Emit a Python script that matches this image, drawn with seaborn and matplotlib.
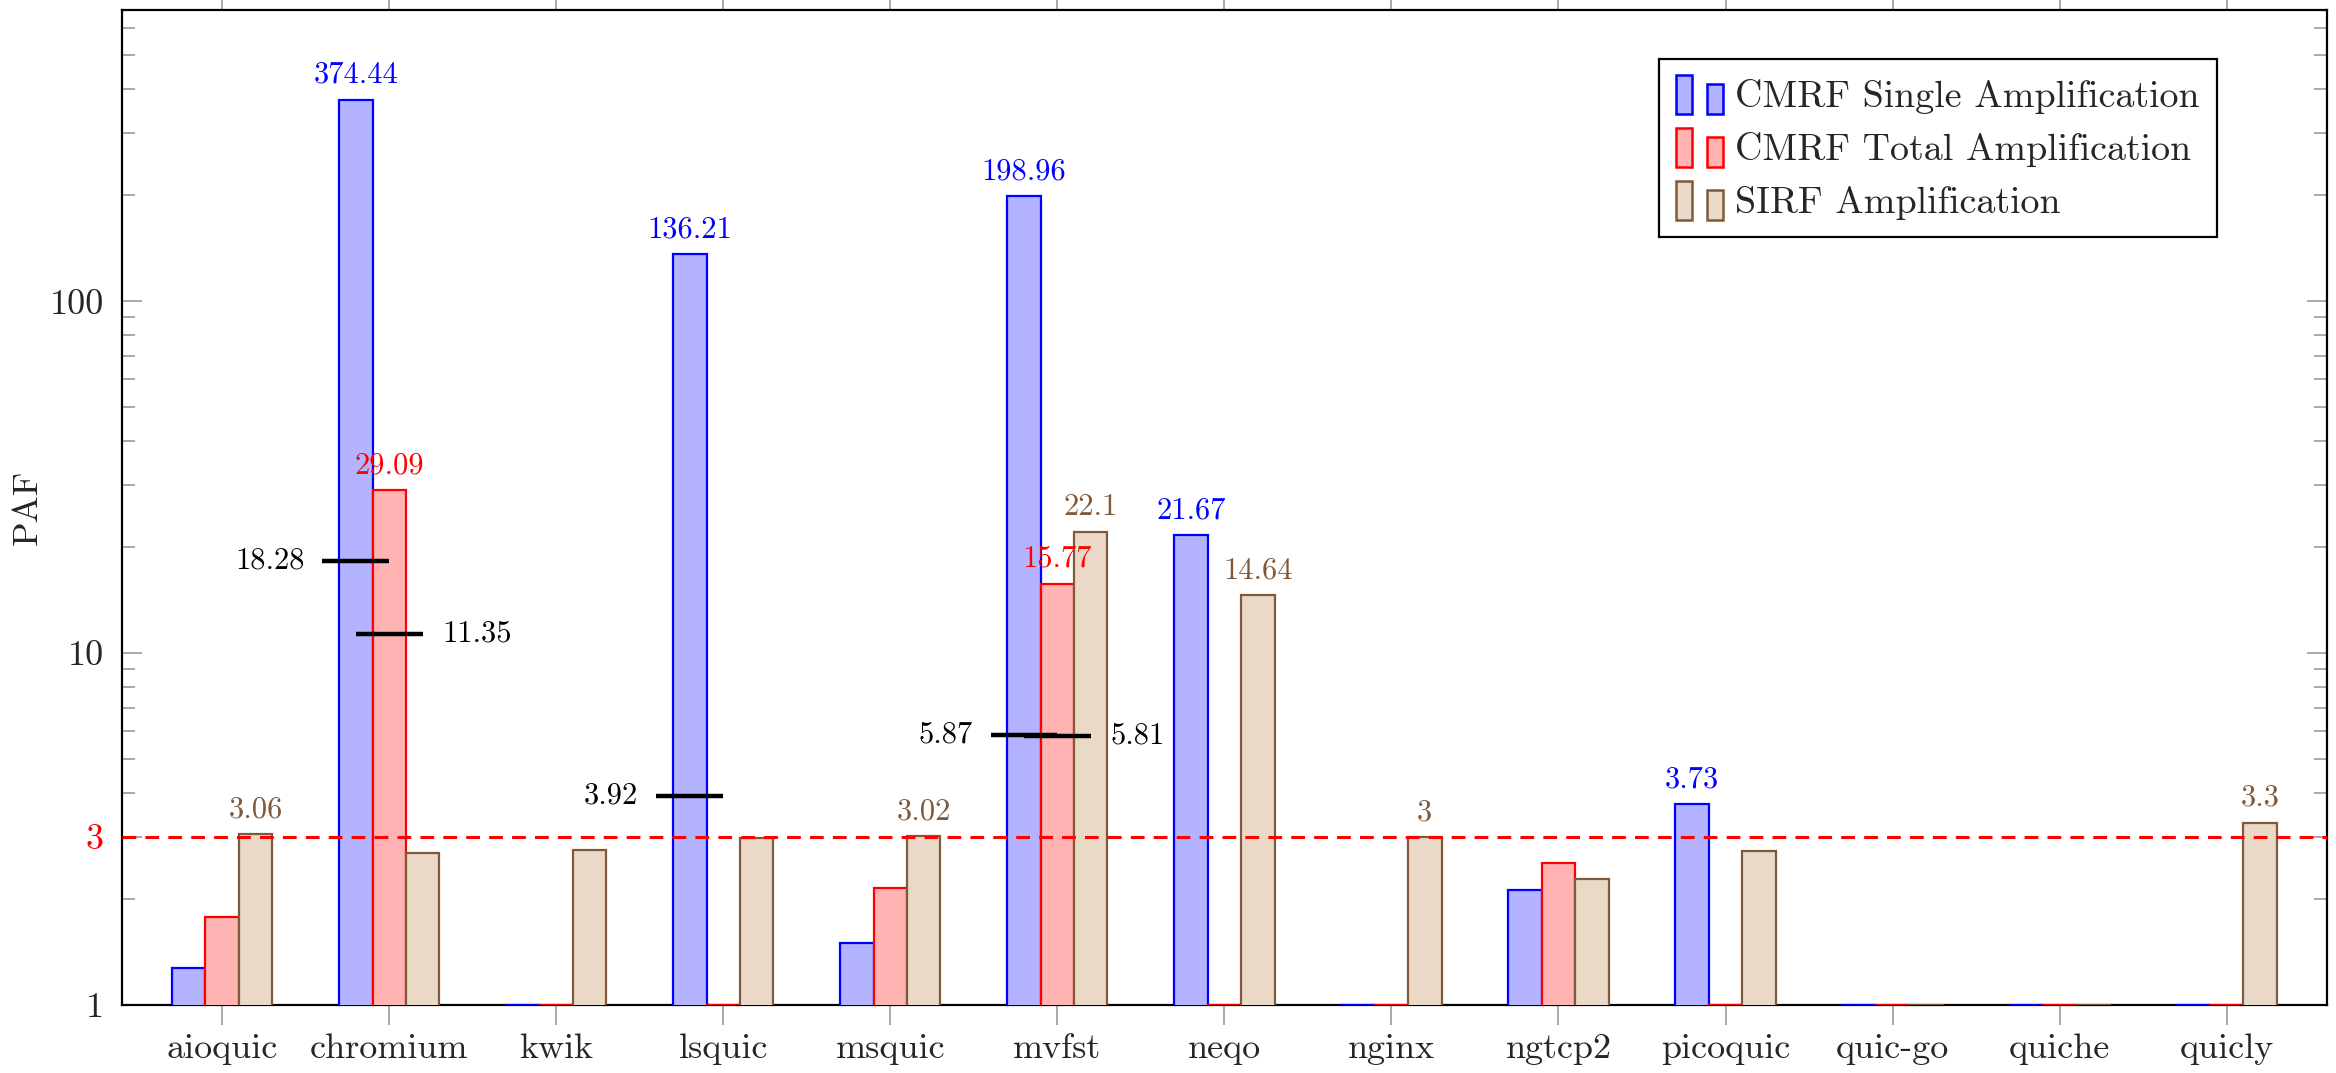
import numpy as np
import pandas as pd
import matplotlib
matplotlib.use("Agg")
import matplotlib.pyplot as plt
import seaborn as sns
from matplotlib.patches import Patch, Rectangle
from matplotlib.legend_handler import HandlerBase
from matplotlib.ticker import FixedLocator, LogLocator, NullFormatter, FixedFormatter

# ---------------- data ----------------
categories = ['aioquic', 'chromium', 'kwik', 'lsquic', 'msquic', 'mvfst', 'neqo',
              'nginx', 'ngtcp2', 'picoquic', 'quic-go', 'quiche', 'quicly']
series_names = ['CMRF Single Amplification', 'CMRF Total Amplification', 'SIRF Amplification']
single_amp = [1.27, 374.44, 1, 136.21, 1.50, 198.96, 21.67, 1, 2.12, 3.73, 1, 1, 1]
total_amp = [1.78, 29.09, 1, 1, 2.15, 15.77, 1, 1, 2.53, 1, 1, 1, 1]
sirf_amp = [3.06, 2.71, 2.75, 2.98, 3.02, 22.1, 14.64, 3, 2.28, 2.74, 1, 1, 3.3]

# black reference markers
marker_cats = ['chromium', 'chromium', 'lsquic', 'mvfst', 'mvfst']
marker_series = [0, 1, 0, 0, 1]
marker_vals = [18.28, 11.35, 3.92, 5.87, 5.81]
marker_side = ['left', 'right', 'left', 'left', 'right']

threshold = 3
label_min = 3

fill_colors = ['#b3b3ff', '#ffb3b3', '#ead9c6']
edge_colors = ['#0000ff', '#ff0000', '#80593a']
label_colors = ['#0000ff', '#ff0000', '#80593a']

# ---------------- style ----------------
sns.set_style("white")
plt.rcParams['font.family'] = ['cmr10', 'DejaVu Serif']
plt.rcParams['axes.formatter.use_mathtext'] = True
plt.rcParams['axes.unicode_minus'] = False

df = pd.DataFrame({
    'impl': categories * 3,
    'series': sum([[s] * len(categories) for s in series_names], []),
    'PAF': single_amp + total_amp + sirf_amp,
})

fig = plt.figure(figsize=(11.68, 5.365), dpi=200)
ax = fig.add_axes([0.0522, 0.0634, 0.9439, 0.9277])
ax.set_yscale('log')

sns.barplot(data=df, x='impl', y='PAF', hue='series', order=categories,
            hue_order=series_names, palette=fill_colors, width=0.6,
            saturation=1, legend=False, ax=ax, errorbar=None, linewidth=0.8)

for i, cont in enumerate(ax.containers):
    for p in cont.patches:
        p.set_edgecolor(edge_colors[i])
        p.set_linewidth(0.8)
        p.set_zorder(1 + i * 0.2)

# value labels
all_vals = [single_amp, total_amp, sirf_amp]
for i, cont in enumerate(ax.containers):
    for p, v in zip(cont.patches, all_vals[i]):
        if v >= label_min:
            xc = p.get_x() + p.get_width() / 2
            ax.annotate(f"{v:g}", (xc, v), xytext=(0, 6), textcoords='offset points',
                        ha='center', va='baseline', fontsize=11,
                        color=label_colors[i], zorder=3)

# black reference markers
for cat, s, v, side in zip(marker_cats, marker_series, marker_vals, marker_side):
    p = ax.containers[s].patches[categories.index(cat)]
    xc = p.get_x() + p.get_width() / 2
    w = p.get_width()
    ax.hlines(v, xc - w, xc + w, colors='black', linewidth=1.6, zorder=5)
    if side == 'left':
        ax.annotate(f"{v:g}", (xc - w, v), xytext=(-6.5, 0), textcoords='offset points',
                    ha='right', va='center', fontsize=11, color='black', zorder=6)
    else:
        ax.annotate(f"{v:g}", (xc + w, v), xytext=(7, 0), textcoords='offset points',
                    ha='left', va='center', fontsize=11, color='black', zorder=6)

# threshold line
ax.axhline(threshold, color='#ff0000', linewidth=1.1, linestyle=(0, (4.5, 3)), zorder=4)

# axes
ax.set_xlim(-0.6, len(categories) - 0.4)
ax.set_ylim(1, 675)
ax.set_xlabel('')
ax.set_ylabel('PAF', fontsize=13, labelpad=2)

ax.yaxis.set_major_locator(FixedLocator([1, 3, 10, 100]))
ax.yaxis.set_major_formatter(FixedFormatter(['1', '3', '10', '100']))
ax.yaxis.set_minor_locator(LogLocator(base=10, subs=np.arange(2, 10)))
ax.yaxis.set_minor_formatter(NullFormatter())
for lbl in ax.get_yticklabels():
    if lbl.get_text() == '3':
        lbl.set_color('#ff0000')

ax.tick_params(axis='y', which='major', direction='in', length=7.2, width=0.6,
               color='#999999', left=True, right=True, labelsize=13, pad=6.5)
ax.tick_params(axis='y', which='minor', direction='in', length=4.7, width=0.6,
               color='#999999', left=True, right=True)
ax.tick_params(axis='x', which='major', direction='out', length=7.2, width=0.6,
               color='#999999', bottom=True, top=True, labelsize=13, pad=3)
ax.tick_params(axis='x', which='minor', bottom=False, top=False)

for sp in ax.spines.values():
    sp.set_color('black')
    sp.set_linewidth(0.8)
    sp.set_zorder(0.9)

# legend with pgfplots-like two-bar handles
class TwoBarHandler(HandlerBase):
    def create_artists(self, legend, orig_handle, xdescent, ydescent, width, height,
                       fontsize, trans):
        fc = orig_handle.get_facecolor()
        ec = orig_handle.get_edgecolor()
        bw = width * 0.34
        r1 = Rectangle((-xdescent, -ydescent - 0.1 * height), bw, height * 1.15,
                       facecolor=fc, edgecolor=ec, linewidth=0.9, transform=trans)
        r2 = Rectangle((-xdescent + width - bw, -ydescent - 0.1 * height), bw, height * 0.88,
                       facecolor=fc, edgecolor=ec, linewidth=0.9, transform=trans)
        return [r1, r2]

handles = [Patch(facecolor=fc, edgecolor=ec) for fc, ec in zip(fill_colors, edge_colors)]
leg = ax.legend(handles, series_names, loc='upper right', bbox_to_anchor=(0.95, 0.95),
                fontsize=13.7, frameon=True, fancybox=False, shadow=False,
                edgecolor='black', framealpha=1, borderpad=0.45, labelspacing=0.42,
                handlelength=1.25, handleheight=1.0, handletextpad=0.3,
                borderaxespad=0,
                handler_map={Patch: TwoBarHandler()})
leg.get_frame().set_linewidth(0.8)
leg.set_zorder(20)

fig.savefig('out.png', dpi=200)
